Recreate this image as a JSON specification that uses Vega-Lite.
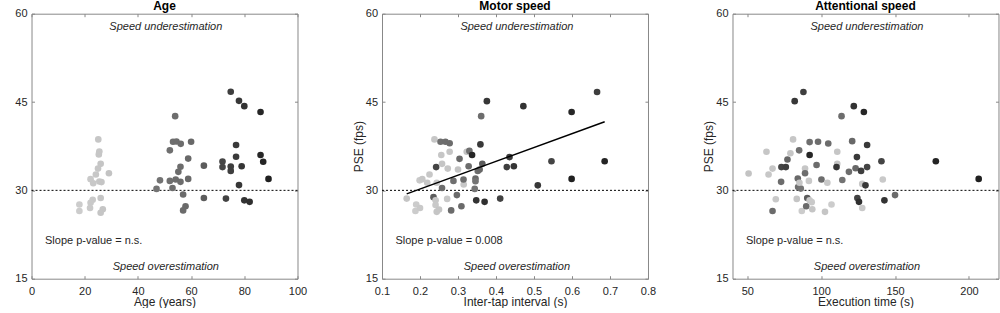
{
  "$schema": "https://vega.github.io/schema/vega-lite/v6.json",
  "background": "white",
  "padding": {"left": 13.5, "top": -1.3, "right": 0, "bottom": 0},
  "bounds": "flush",
  "spacing": 84.5,
  "config": {
    "font": "Liberation Sans",
    "view": {"stroke": "#888888", "strokeWidth": 1},
    "axis": {"grid": false, "domain": false, "tickColor": "#888888", "tickSize": -3, "labelOverlap": false, "labelFlush": false, "labelFont": "Liberation Sans", "labelFontSize": 11, "labelColor": "#262626", "titleFont": "Liberation Sans", "titleFontSize": 12, "titleFontWeight": "normal", "titleColor": "#262626"},
    "axisX": {"labelPadding": 9.5, "titlePadding": 0},
    "axisY": {"labelPadding": 7.5, "titlePadding": 0},
    "title": {"fontSize": 12, "fontWeight": "bold", "color": "#000000", "offset": -5, "font": "Liberation Sans"}
  },
  "datasets": {
    "frame": [{}],
    "age": [
      {"age": 25.1, "pse": 38.65}, {"age": 25.5, "pse": 36.6}, {"age": 25.3, "pse": 36.1}, {"age": 26, "pse": 34.5}, {"age": 25, "pse": 33.7},
      {"age": 29.1, "pse": 32.9}, {"age": 24.2, "pse": 32.7}, {"age": 22.2, "pse": 31.9}, {"age": 23.2, "pse": 31.2}, {"age": 25.5, "pse": 31.5},
      {"age": 26.3, "pse": 31.4}, {"age": 23, "pse": 28.4}, {"age": 26, "pse": 28.7}, {"age": 22.2, "pse": 27.9}, {"age": 18, "pse": 27.6},
      {"age": 22, "pse": 27.0}, {"age": 18, "pse": 26.5}, {"age": 26.8, "pse": 26.8}, {"age": 26, "pse": 26.2},
      {"age": 54, "pse": 42.6}, {"age": 53.2, "pse": 38.25}, {"age": 54.5, "pse": 38.3}, {"age": 56.1, "pse": 37.9}, {"age": 60, "pse": 38.25},
      {"age": 52, "pse": 36.8}, {"age": 58.9, "pse": 35.4}, {"age": 56, "pse": 34.0}, {"age": 55.2, "pse": 33.15}, {"age": 48.3, "pse": 31.7},
      {"age": 52, "pse": 31.6}, {"age": 54.2, "pse": 31.85}, {"age": 56, "pse": 31.45}, {"age": 58.9, "pse": 31.95}, {"age": 47, "pse": 30.25},
      {"age": 53, "pse": 30.4}, {"age": 57, "pse": 29.3}, {"age": 57.9, "pse": 27.3}, {"age": 57, "pse": 26.6},
      {"age": 74.9, "pse": 46.75}, {"age": 78, "pse": 45.2}, {"age": 80, "pse": 44.3}, {"age": 86.1, "pse": 43.3}, {"age": 76.9, "pse": 37.7},
      {"age": 76.9, "pse": 35.7}, {"age": 86.1, "pse": 36.0}, {"age": 87.1, "pse": 34.85}, {"age": 71.8, "pse": 34.9}, {"age": 64.8, "pse": 34.2},
      {"age": 71.8, "pse": 33.95}, {"age": 74.9, "pse": 34.05}, {"age": 74.9, "pse": 33.3}, {"age": 79, "pse": 34.1}, {"age": 89.1, "pse": 31.95},
      {"age": 78, "pse": 30.9}, {"age": 64.8, "pse": 28.7}, {"age": 73.1, "pse": 28.6}, {"age": 80, "pse": 28.3}, {"age": 82, "pse": 28.05}
    ],
    "motor": [
      {"iti": 0.165, "pse": 28.6, "age": 26}, {"iti": 0.188, "pse": 26.5, "age": 18}, {"iti": 0.19, "pse": 27.6, "age": 18}, {"iti": 0.2, "pse": 27.0, "age": 22},
      {"iti": 0.199, "pse": 31.7, "age": 22}, {"iti": 0.206, "pse": 31.9, "age": 25}, {"iti": 0.225, "pse": 32.7, "age": 24}, {"iti": 0.219, "pse": 31.3, "age": 25},
      {"iti": 0.238, "pse": 38.65, "age": 25}, {"iti": 0.2425, "pse": 33.95, "age": 72}, {"iti": 0.2355, "pse": 28.85, "age": 65}, {"iti": 0.241, "pse": 28.3, "age": 23},
      {"iti": 0.241, "pse": 27.5, "age": 22}, {"iti": 0.244, "pse": 26.35, "age": 26}, {"iti": 0.25, "pse": 26.75, "age": 27}, {"iti": 0.254, "pse": 38.25, "age": 53},
      {"iti": 0.256, "pse": 36.0, "age": 25}, {"iti": 0.258, "pse": 34.5, "age": 26}, {"iti": 0.258, "pse": 30.4, "age": 53}, {"iti": 0.244, "pse": 31.3, "age": 23},
      {"iti": 0.267, "pse": 38.25, "age": 54}, {"iti": 0.278, "pse": 38.0, "age": 56}, {"iti": 0.273, "pse": 33.7, "age": 25}, {"iti": 0.2715, "pse": 28.55, "age": 23},
      {"iti": 0.278, "pse": 36.55, "age": 25}, {"iti": 0.282, "pse": 26.6, "age": 57}, {"iti": 0.288, "pse": 31.6, "age": 52}, {"iti": 0.297, "pse": 29.2, "age": 57},
      {"iti": 0.3, "pse": 33.55, "age": 29}, {"iti": 0.304, "pse": 35.35, "age": 59}, {"iti": 0.309, "pse": 27.3, "age": 58}, {"iti": 0.315, "pse": 31.0, "age": 24},
      {"iti": 0.3145, "pse": 31.85, "age": 54}, {"iti": 0.323, "pse": 36.55, "age": 30}, {"iti": 0.328, "pse": 34.1, "age": 56}, {"iti": 0.33, "pse": 36.7, "age": 52},
      {"iti": 0.337, "pse": 36.0, "age": 86}, {"iti": 0.344, "pse": 30.25, "age": 47}, {"iti": 0.346, "pse": 32.0, "age": 59}, {"iti": 0.346, "pse": 31.55, "age": 48},
      {"iti": 0.352, "pse": 33.3, "age": 55}, {"iti": 0.357, "pse": 33.55, "age": 60}, {"iti": 0.361, "pse": 42.6, "age": 54}, {"iti": 0.359, "pse": 37.8, "age": 77},
      {"iti": 0.348, "pse": 28.3, "age": 80}, {"iti": 0.37, "pse": 28.05, "age": 82}, {"iti": 0.376, "pse": 45.15, "age": 78}, {"iti": 0.364, "pse": 34.5, "age": 65},
      {"iti": 0.411, "pse": 28.6, "age": 73}, {"iti": 0.4285, "pse": 33.95, "age": 75}, {"iti": 0.4355, "pse": 35.65, "age": 77}, {"iti": 0.447, "pse": 34.1, "age": 79},
      {"iti": 0.472, "pse": 44.3, "age": 80}, {"iti": 0.51, "pse": 30.85, "age": 78}, {"iti": 0.546, "pse": 34.95, "age": 72}, {"iti": 0.599, "pse": 43.3, "age": 86},
      {"iti": 0.599, "pse": 31.95, "age": 89}, {"iti": 0.666, "pse": 46.7, "age": 75}, {"iti": 0.686, "pse": 34.95, "age": 87}
    ],
    "fit": [
      {"iti": 0.165, "pse": 29.4}, {"iti": 0.686, "pse": 41.65}
    ],
    "attn": [
      {"time": 50.9, "pse": 32.87, "age": 29}, {"time": 63, "pse": 36.55, "age": 25}, {"time": 64.4, "pse": 32.7, "age": 24}, {"time": 67.1, "pse": 33.7, "age": 25},
      {"time": 69.3, "pse": 28.5, "age": 23}, {"time": 67.1, "pse": 26.5, "age": 57}, {"time": 73.1, "pse": 33.95, "age": 72}, {"time": 72.9, "pse": 31.45, "age": 56},
      {"time": 76.1, "pse": 33.95, "age": 75}, {"time": 77.2, "pse": 35.25, "age": 62}, {"time": 79.2, "pse": 36.3, "age": 25}, {"time": 81, "pse": 38.65, "age": 25},
      {"time": 82.1, "pse": 45.15, "age": 78}, {"time": 83.5, "pse": 28.55, "age": 26}, {"time": 84.2, "pse": 32.0, "age": 59}, {"time": 85.1, "pse": 36.8, "age": 52},
      {"time": 84.4, "pse": 30.55, "age": 53}, {"time": 86.2, "pse": 30.3, "age": 47}, {"time": 85.3, "pse": 31.3, "age": 25}, {"time": 86.9, "pse": 26.5, "age": 18},
      {"time": 88, "pse": 46.7, "age": 75}, {"time": 89.1, "pse": 33.7, "age": 25}, {"time": 89.1, "pse": 32.9, "age": 55}, {"time": 90.6, "pse": 28.7, "age": 65},
      {"time": 89.9, "pse": 27.3, "age": 58}, {"time": 92.2, "pse": 28.3, "age": 23}, {"time": 93.6, "pse": 28.0, "age": 22}, {"time": 91.7, "pse": 31.6, "age": 22},
      {"time": 92.2, "pse": 36.0, "age": 86}, {"time": 92.2, "pse": 38.2, "age": 53}, {"time": 94, "pse": 26.8, "age": 27}, {"time": 96.9, "pse": 34.3, "age": 56},
      {"time": 97.9, "pse": 38.25, "age": 54}, {"time": 100.2, "pse": 31.85, "age": 54}, {"time": 102.6, "pse": 26.35, "age": 26}, {"time": 104.2, "pse": 31.3, "age": 23},
      {"time": 104.8, "pse": 37.95, "age": 56}, {"time": 107, "pse": 27.6, "age": 18}, {"time": 110.9, "pse": 36.55, "age": 25}, {"time": 110.9, "pse": 34.5, "age": 26},
      {"time": 110.4, "pse": 33.95, "age": 79}, {"time": 113.8, "pse": 42.6, "age": 54}, {"time": 114.3, "pse": 31.75, "age": 48}, {"time": 118.8, "pse": 33.15, "age": 55},
      {"time": 121, "pse": 38.35, "age": 60}, {"time": 122.1, "pse": 44.3, "age": 80}, {"time": 123.3, "pse": 33.75, "age": 60}, {"time": 124.2, "pse": 35.65, "age": 77},
      {"time": 127, "pse": 33.3, "age": 75}, {"time": 128.9, "pse": 43.3, "age": 86}, {"time": 131.1, "pse": 37.7, "age": 77}, {"time": 131.1, "pse": 33.95, "age": 72},
      {"time": 140.8, "pse": 34.95, "age": 72}, {"time": 127.8, "pse": 31.1, "age": 24}, {"time": 130, "pse": 30.85, "age": 78}, {"time": 141.7, "pse": 31.85, "age": 22},
      {"time": 124.5, "pse": 28.7, "age": 73}, {"time": 125.6, "pse": 28.05, "age": 82}, {"time": 127.8, "pse": 27.0, "age": 22}, {"time": 142.8, "pse": 28.3, "age": 80},
      {"time": 150, "pse": 29.2, "age": 57}, {"time": 177.6, "pse": 34.95, "age": 87}, {"time": 206.6, "pse": 31.95, "age": 89}
    ]
  },
  "hconcat": [
    {
      "title": "Age",
      "width": 266, "height": 265,
      "resolve": {"axis": {"x": "independent", "y": "independent"}},
      "layer": [
        {"data": {"name": "frame"}, "mark": {"type": "point", "opacity": 0},
         "encoding": {
           "x": {"datum": 50, "type": "quantitative", "axis": {"orient": "top", "labels": false, "title": null, "values": [0, 20, 40, 60, 80, 100]}},
           "y": {"datum": 30, "type": "quantitative", "axis": {"orient": "right", "labels": false, "title": null, "values": [15, 30, 45, 60]}}
         }},
        {"data": {"name": "frame"}, "mark": {"type": "rule", "strokeDash": [2, 2], "color": "black", "strokeWidth": 1}, "encoding": {"y": {"datum": 30, "type": "quantitative", "axis": null}}},
        {"data": {"name": "age"}, "mark": {"type": "circle", "size": 44, "opacity": 1},
         "encoding": {
           "x": {"field": "age", "type": "quantitative", "scale": {"domain": [0, 100], "nice": false, "zero": false}, "axis": {"title": "Age (years)", "values": [0, 20, 40, 60, 80, 100]}},
           "y": {"field": "pse", "type": "quantitative", "scale": {"domain": [15, 60], "nice": false, "zero": false}, "axis": {"title": null, "values": [15, 30, 45, 60]}},
           "color": {"field": "age", "type": "quantitative", "legend": null, "scale": {"type": "linear", "domain": [18, 30, 47, 62, 72, 90], "range": ["#cccccc", "#c2c2c2", "#747474", "#666666", "#444444", "#1e1e1e"], "interpolate": "rgb"}}
         }},
        {"data": {"name": "frame"}, "mark": {"type": "text", "fontStyle": "italic", "fontSize": 11, "color": "#262626", "align": "center", "baseline": "middle"}, "encoding": {"x": {"datum": 50.5, "type": "quantitative", "axis": null}, "y": {"datum": 57.7, "type": "quantitative", "axis": null}, "text": {"value": "Speed underestimation"}}},
        {"data": {"name": "frame"}, "mark": {"type": "text", "fontStyle": "italic", "fontSize": 11, "color": "#262626", "align": "center", "baseline": "middle"}, "encoding": {"x": {"datum": 50.5, "type": "quantitative", "axis": null}, "y": {"datum": 16.95, "type": "quantitative", "axis": null}, "text": {"value": "Speed overestimation"}}},
        {"data": {"name": "frame"}, "mark": {"type": "text", "fontSize": 11, "color": "#262626", "align": "left", "baseline": "middle"}, "encoding": {"x": {"datum": 5.07, "type": "quantitative", "axis": null}, "y": {"datum": 21.45, "type": "quantitative", "axis": null}, "text": {"value": "Slope p-value = n.s."}}}
      ]
    },
    {
      "title": "Motor speed",
      "width": 266, "height": 265,
      "resolve": {"axis": {"x": "independent", "y": "independent"}},
      "layer": [
        {"data": {"name": "frame"}, "mark": {"type": "point", "opacity": 0},
         "encoding": {
           "x": {"datum": 0.45, "type": "quantitative", "axis": {"orient": "top", "labels": false, "title": null, "values": [0.1, 0.2, 0.3, 0.4, 0.5, 0.6, 0.7, 0.8]}},
           "y": {"datum": 30, "type": "quantitative", "axis": {"orient": "right", "labels": false, "title": null, "values": [15, 30, 45, 60]}}
         }},
        {"data": {"name": "frame"}, "mark": {"type": "rule", "strokeDash": [2, 2], "color": "black", "strokeWidth": 1}, "encoding": {"y": {"datum": 30, "type": "quantitative", "axis": null}}},
        {"data": {"name": "motor"}, "mark": {"type": "circle", "size": 44, "opacity": 1},
         "encoding": {
           "x": {"field": "iti", "type": "quantitative", "scale": {"domain": [0.1, 0.8], "nice": false, "zero": false}, "axis": {"title": "Inter-tap interval (s)", "values": [0.1, 0.2, 0.3, 0.4, 0.5, 0.6, 0.7, 0.8], "format": ".1f"}},
           "y": {"field": "pse", "type": "quantitative", "scale": {"domain": [15, 60], "nice": false, "zero": false}, "axis": {"title": "PSE (fps)", "values": [15, 30, 45, 60]}},
           "color": {"field": "age", "type": "quantitative", "legend": null, "scale": {"type": "linear", "domain": [18, 30, 47, 62, 72, 90], "range": ["#cccccc", "#c2c2c2", "#747474", "#666666", "#444444", "#1e1e1e"], "interpolate": "rgb"}}
         }},
        {"data": {"name": "fit"}, "mark": {"type": "line", "color": "black", "strokeWidth": 1.5},
         "encoding": {"x": {"field": "iti", "type": "quantitative", "axis": null}, "y": {"field": "pse", "type": "quantitative", "axis": null}}},
        {"data": {"name": "frame"}, "mark": {"type": "text", "fontStyle": "italic", "fontSize": 11, "color": "#262626", "align": "center", "baseline": "middle"}, "encoding": {"x": {"datum": 0.455, "type": "quantitative", "axis": null}, "y": {"datum": 57.7, "type": "quantitative", "axis": null}, "text": {"value": "Speed underestimation"}}},
        {"data": {"name": "frame"}, "mark": {"type": "text", "fontStyle": "italic", "fontSize": 11, "color": "#262626", "align": "center", "baseline": "middle"}, "encoding": {"x": {"datum": 0.455, "type": "quantitative", "axis": null}, "y": {"datum": 16.95, "type": "quantitative", "axis": null}, "text": {"value": "Speed overestimation"}}},
        {"data": {"name": "frame"}, "mark": {"type": "text", "fontSize": 11, "color": "#262626", "align": "left", "baseline": "middle"}, "encoding": {"x": {"datum": 0.1355, "type": "quantitative", "axis": null}, "y": {"datum": 21.45, "type": "quantitative", "axis": null}, "text": {"value": "Slope p-value = 0.008"}}}
      ]
    },
    {
      "title": "Attentional speed",
      "width": 266, "height": 265,
      "resolve": {"axis": {"x": "independent", "y": "independent"}},
      "layer": [
        {"data": {"name": "frame"}, "mark": {"type": "point", "opacity": 0},
         "encoding": {
           "x": {"datum": 130, "type": "quantitative", "axis": {"orient": "top", "labels": false, "title": null, "values": [50, 100, 150, 200]}},
           "y": {"datum": 30, "type": "quantitative", "axis": {"orient": "right", "labels": false, "title": null, "values": [15, 30, 45, 60]}}
         }},
        {"data": {"name": "frame"}, "mark": {"type": "rule", "strokeDash": [2, 2], "color": "black", "strokeWidth": 1}, "encoding": {"y": {"datum": 30, "type": "quantitative", "axis": null}}},
        {"data": {"name": "attn"}, "mark": {"type": "circle", "size": 44, "opacity": 1},
         "encoding": {
           "x": {"field": "time", "type": "quantitative", "scale": {"domain": [40, 220], "nice": false, "zero": false}, "axis": {"title": "Execution time (s)", "values": [50, 100, 150, 200]}},
           "y": {"field": "pse", "type": "quantitative", "scale": {"domain": [15, 60], "nice": false, "zero": false}, "axis": {"title": "PSE (fps)", "values": [15, 30, 45, 60]}},
           "color": {"field": "age", "type": "quantitative", "legend": null, "scale": {"type": "linear", "domain": [18, 30, 47, 62, 72, 90], "range": ["#cccccc", "#c2c2c2", "#747474", "#666666", "#444444", "#1e1e1e"], "interpolate": "rgb"}}
         }},
        {"data": {"name": "frame"}, "mark": {"type": "text", "fontStyle": "italic", "fontSize": 11, "color": "#262626", "align": "center", "baseline": "middle"}, "encoding": {"x": {"datum": 131, "type": "quantitative", "axis": null}, "y": {"datum": 57.7, "type": "quantitative", "axis": null}, "text": {"value": "Speed underestimation"}}},
        {"data": {"name": "frame"}, "mark": {"type": "text", "fontStyle": "italic", "fontSize": 11, "color": "#262626", "align": "center", "baseline": "middle"}, "encoding": {"x": {"datum": 131, "type": "quantitative", "axis": null}, "y": {"datum": 16.95, "type": "quantitative", "axis": null}, "text": {"value": "Speed overestimation"}}},
        {"data": {"name": "frame"}, "mark": {"type": "text", "fontSize": 11, "color": "#262626", "align": "left", "baseline": "middle"}, "encoding": {"x": {"datum": 49.1, "type": "quantitative", "axis": null}, "y": {"datum": 21.45, "type": "quantitative", "axis": null}, "text": {"value": "Slope p-value = n.s."}}}
      ]
    }
  ]
}
